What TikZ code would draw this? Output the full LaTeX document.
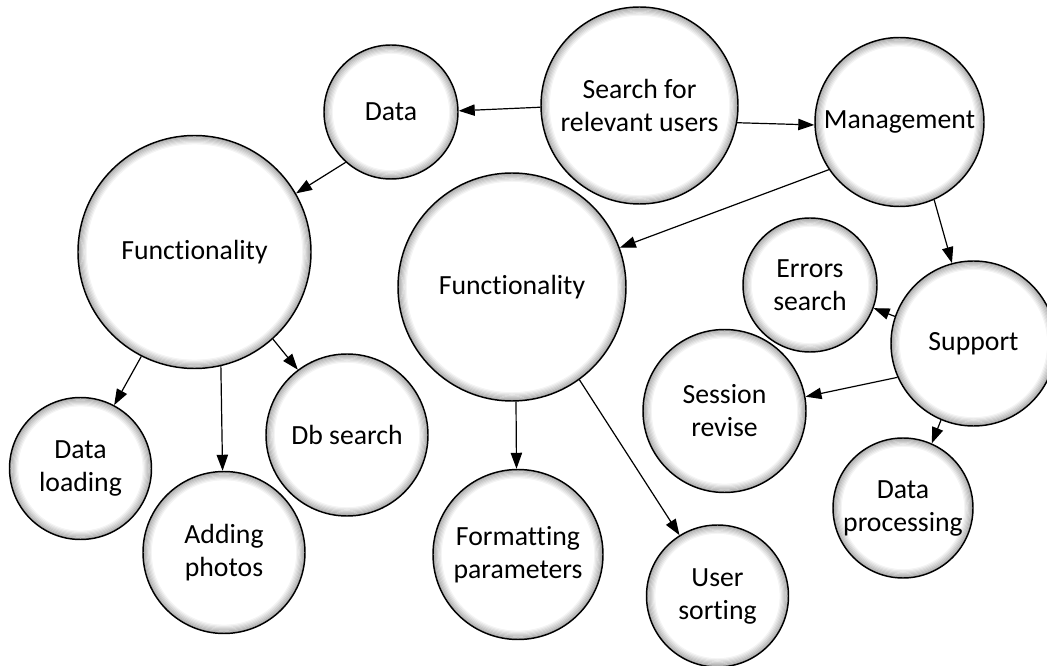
\documentclass[tikz,border=0pt]{standalone}
\usepackage{fontspec}
\setmainfont[Ligatures=NoCommon]{Carlito}
\usetikzlibrary{arrows.meta}
\begin{document}
\begin{tikzpicture}[x=0.75pt,y=-0.75pt,
  bub/.style={circle, draw=black, line width=1.1pt, fill=white,
    minimum size=#1*1.5pt, inner sep=0pt, align=center,
    font=\fontsize{20.8}{24.75}\selectfont,
    % soft grey rim just inside the outline
    path picture={%
      \foreach \k in {0,...,9}{%
        \pgfmathsetmacro\g{max(0,36-\k*4.5)}%
        \draw[black!\g, line width=1.0pt]
          (path picture bounding box.center) circle[radius={(#1-\k*1.2)*0.75pt}];}}},
  link/.style={line width=0.9pt, -{Triangle[length=12pt,width=8.5pt]}}]
\clip (0,0) rectangle (1047,666);
\fill[white] (0,0) rectangle (1047,666);

% bubbles
\node[bub=98.5]  (srch)  at (639.5,105.5) {Search for\\relevant users};
\node[bub=67]    (data)  at (391,112)     {Data};
\node[bub=84.5]  (mgmt)  at (899.5,122)   {Management};
\node[bub=116.5] (funcL) at (194.5,252)   {Functionality};
\node[bub=114]   (funcM) at (512,287)     {Functionality};
\node[bub=67]    (err)   at (810,285)     {Errors\\search};
\node[bub=82.5]  (supp)  at (973.5,343.5) {Support};
\node[bub=81.5]  (sess)  at (724.5,411)   {Session\\revise};
\node[bub=70]    (dproc) at (903,508)     {Data\\processing};
\node[bub=71]    (dload) at (80.5,468.5)  {Data\\loading};
\node[bub=81]    (photo) at (224,552.5)   {Adding\\photos};
\node[bub=81]    (dbs)   at (347,435)     {Db search};
\node[bub=85]    (fmt)   at (518,554.5)   {Formatting\\parameters};
\node[bub=71]    (usort) at (717.5,596)   {User\\sorting};

% connectors
\draw[link] (srch.181.5)  -- (data.1.7);
\draw[link] (srch.-10.6)  -- (mgmt.182.7);
\draw[link] (data.-132)   -- (funcL.30.4);
\draw[link] (mgmt.214.3)  -- (funcM.20.5);
\draw[link] (mgmt.-66.5)  -- (supp.105.4);
\draw[link] (supp.161.3)  -- (err.-20.3);
\draw[link] (supp.204.3)  -- (sess.10.4);
\draw[link] (supp.-113)   -- (dproc.66.7);
\draw[link] (funcL.-117.9) -- (dload.62.2);
\draw[link] (funcL.-77.4) -- (photo.91.4);
\draw[link] (funcL.-48.6) -- (dbs.127.8);
\draw[link] (funcM.-88)   -- (fmt.91.4);
\draw[link] (funcM.-54.1) -- (usort.122.3);
\end{tikzpicture}
\end{document}
